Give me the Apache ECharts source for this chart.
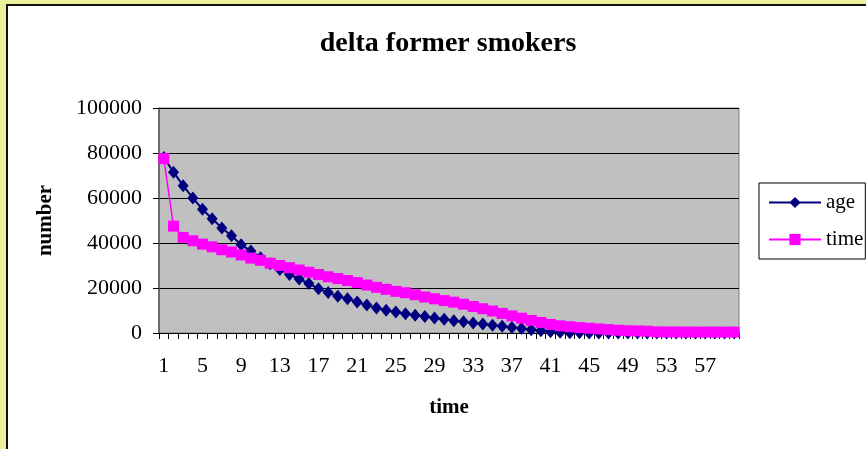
<!DOCTYPE html>
<html>
<head>
<meta charset="utf-8">
<script src="https://cdn.jsdelivr.net/npm/echarts@6/dist/echarts.min.js"></script>
<style>
  html, body { margin: 0; padding: 0; background: #ffffff; }
  #frame { position: absolute; left: 0; top: 0; width: 866px; height: 449px; background: #ffffff; overflow: hidden; }
  #yellowTop { position: absolute; left: 0; top: 0; width: 866px; height: 4px; background: #ebf09c; }
  #yellowLeft { position: absolute; left: 0; top: 0; width: 6px; height: 449px; background: #ebf09c; }
  #blackTop { position: absolute; left: 6px; top: 4px; width: 860px; height: 1.5px; background: #111; }
  #blackLeft { position: absolute; left: 6px; top: 4px; width: 1.5px; height: 445px; background: #111; }
  #chart { position: absolute; left: 0; top: 0; width: 866px; height: 449px; }
</style>
</head>
<body>
<div id="frame">
  <div id="chart"></div>
  <div id="yellowTop"></div>
  <div id="yellowLeft"></div>
  <div id="blackTop"></div>
  <div id="blackLeft"></div>
</div>
<script>
// ---- data ----
var categories = [];
for (var c = 1; c <= 60; c++) categories.push(String(c));

var ageValues = [
  78000, 71500, 65500, 60000, 55000, 50800, 46700, 43200, 39200, 36500,
  33500, 30800, 28200, 26000, 24000, 22000, 19700, 18000, 16300, 15200,
  13800, 12400, 11100, 10100, 9300, 8600, 7900, 7300, 6700, 6100,
  5500, 5000, 4500, 4000, 3500, 3000, 2500, 2000, 1500, 1000,
  600, 300, 150, 80, 50, 30, 20, 10, 10, 0,
  0, 0, 0, 0, 0, 0, 0, 0, 0, 0
];

var timeValues = [
  77500, 47500, 42500, 41000, 39500, 38300, 37000, 36000, 34700, 33300,
  32300, 31000, 30000, 29000, 28000, 27000, 26000, 25000, 24200, 23300,
  22400, 21300, 20300, 19400, 18500, 17900, 17000, 16000, 15200, 14400,
  13700, 12800, 11800, 10800, 9800, 8700, 7600, 6600, 5600, 4700,
  3800, 3200, 2800, 2400, 2100, 1800, 1500, 1200, 1000, 900,
  800, 500, 450, 450, 400, 400, 400, 400, 400, 400
];

var seriesNames = ['age', 'time'];
var titleText = 'delta former smokers';
var xAxisName = 'time';
var yAxisName = 'number';

// ---- chart ----
var FONT = '"Liberation Serif", "Times New Roman", serif';
var chart = echarts.init(document.getElementById('chart'), null, { renderer: 'canvas' });
chart.setOption({
  animation: false,
  backgroundColor: 'transparent',
  title: {
    text: titleText,
    left: 443,
    textAlign: 'center',
    top: 25,
    textStyle: { fontFamily: FONT, fontSize: 28, fontWeight: 'bold', color: '#000' }
  },
  legend: {
    data: seriesNames,
    orient: 'vertical',
    left: 759,
    top: 183,
    padding: [9, 2, 9, 9],
    itemGap: 16,
    itemWidth: 52,
    itemHeight: 14,
    borderColor: '#000',
    borderWidth: 1,
    borderRadius: 0,
    backgroundColor: '#ffffff',
    textStyle: { fontFamily: FONT, fontSize: 21, color: '#000' }
  },
  grid: {
    left: 159,
    right: 127,
    top: 108,
    bottom: 116,
    show: true,
    backgroundColor: '#c0c0c0',
    borderColor: '#808080',
    borderWidth: 1
  },
  xAxis: {
    type: 'category',
    data: categories,
    boundaryGap: true,
    name: xAxisName,
    nameLocation: 'middle',
    nameGap: 64,
    nameTextStyle: { fontFamily: FONT, fontSize: 21, fontWeight: 'bold', color: '#000' },
    axisLine: { show: true, lineStyle: { color: '#000', width: 1 } },
    axisTick: { show: true, interval: 0, alignWithLabel: false, length: 6, lineStyle: { color: '#000' } },
    axisLabel: { interval: 3, margin: 22, fontFamily: FONT, fontSize: 22, color: '#000' },
    splitLine: { show: false }
  },
  yAxis: {
    type: 'value',
    min: 0,
    max: 100000,
    interval: 20000,
    name: yAxisName,
    nameLocation: 'middle',
    nameGap: 103,
    nameRotate: 90,
    nameTextStyle: { fontFamily: FONT, fontSize: 21, fontWeight: 'bold', color: '#000' },
    axisLine: { show: true, lineStyle: { color: '#555', width: 1.5 } },
    axisTick: { show: true, length: 6, lineStyle: { color: '#000' } },
    axisLabel: {
      margin: 17, fontFamily: FONT, fontSize: 22, color: '#000',
      formatter: function (v) { return String(v); }
    },
    splitLine: { show: true, lineStyle: { color: '#000', width: 1 } }
  },
  series: [
    {
      name: seriesNames[0],
      type: 'line',
      data: ageValues,
      symbol: 'diamond',
      symbolSize: [11, 13],
      showAllSymbol: true,
      color: '#000080',
      lineStyle: { color: '#000080', width: 2 },
      itemStyle: { color: '#000080' },
      z: 2
    },
    {
      name: seriesNames[1],
      type: 'line',
      data: timeValues,
      symbol: 'rect',
      symbolSize: 11,
      showAllSymbol: true,
      color: '#ff00ff',
      lineStyle: { color: '#ff00ff', width: 1.5 },
      itemStyle: { color: '#ff00ff' },
      z: 3
    }
  ]
});
</script>
</body>
</html>
